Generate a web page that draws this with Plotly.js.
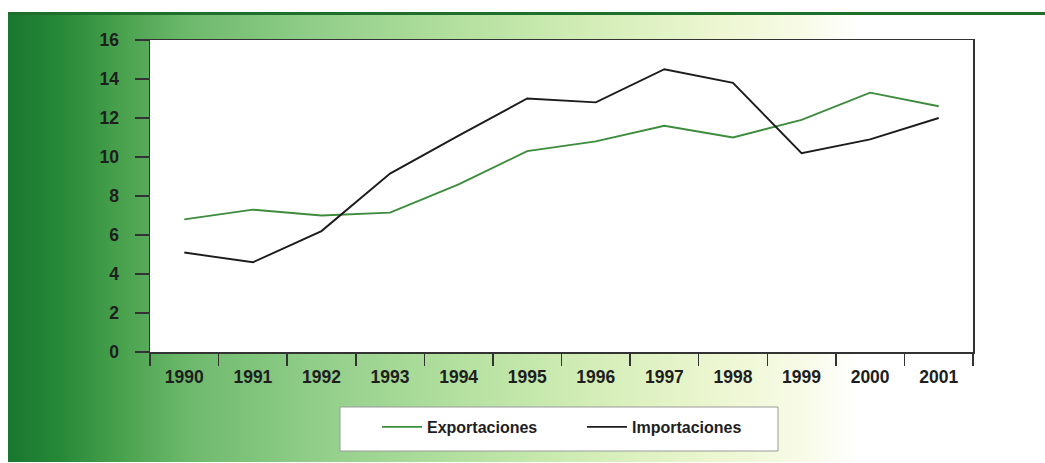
<!DOCTYPE html>
<html>
<head>
<meta charset="utf-8">
<script src="https://cdn.plot.ly/plotly-3.0.1.min.js"></script>
<style>
  html, body { margin:0; padding:0; background:#ffffff; width:1045px; height:463px; overflow:hidden; }
  #bg { position:absolute; left:8px; top:12px; width:1037px; height:450px;
        border-top:3px solid #1f6e2c; box-sizing:border-box;
        background: linear-gradient(to right, #19772f 0px, #258837 50px, #47a04c 110px, #6db96c 180px, #8fcd88 300px, #b3e09f 450px, #d2edb6 580px, #ebf6cf 700px, #f8fbe8 800px, #ffffff 850px, #ffffff 1037px); }
  #chart { position:absolute; left:0; top:0; width:1045px; height:463px; }
</style>
</head>
<body>
<div id="bg"></div>
<div id="chart"></div>
<script>
const years = ['1990','1991','1992','1993','1994','1995','1996','1997','1998','1999','2000','2001'];
const exportaciones = [6.8, 7.3, 7.0, 7.15, 8.6, 10.3, 10.8, 11.6, 11.0, 11.9, 13.3, 12.6];
const importaciones = [5.1, 4.6, 6.2, 9.15, 11.1, 13.0, 12.8, 14.5, 13.8, 10.2, 10.9, 12.0];
const seriesNames = ['Exportaciones', 'Importaciones'];

const FONT = 'Liberation Sans, Arial, sans-serif';
const W = 1045, H = 463, ML = 150, MR = 72, MT = 40, MB = 111;
const pw = W - ML - MR, ph = H - MT - MB;
const px2x = p => (p - ML) / pw;
const py2y = p => (H - MB - p) / ph;

const traces = [
  { x: years, y: exportaciones, name: seriesNames[0], type: 'scatter', mode: 'lines',
    line: { color: '#3d8c3d', width: 1.9 } },
  { x: years, y: importaciones, name: seriesNames[1], type: 'scatter', mode: 'lines',
    line: { color: '#1c1c1c', width: 1.9 } }
];

const layout = {
  width: W, height: H,
  margin: { l: ML, r: MR, t: MT, b: MB },
  paper_bgcolor: 'rgba(0,0,0,0)',
  plot_bgcolor: '#ffffff',
  font: { family: FONT, size: 17.5, color: '#1e1e1e', weight: 'bold' },
  showlegend: true,
  xaxis: {
    type: 'category', range: [-0.5, 11.5], tickson: 'boundaries',
    ticks: 'outside', ticklen: 12, tickwidth: 1.5, tickcolor: '#333',
    ticklabelstandoff: 8,
    showline: true, linecolor: '#333', linewidth: 1.5, mirror: true,
    showgrid: false, zeroline: false,
    tickfont: { family: FONT, size: 17.5, color: '#1e1e1e', weight: 'bold' }
  },
  yaxis: {
    range: [0, 16], dtick: 2, tick0: 0,
    ticks: 'outside', ticklen: 14, tickwidth: 1.5, tickcolor: '#333',
    ticklabelstandoff: 12,
    showline: true, linecolor: '#333', linewidth: 1.5, mirror: true,
    showgrid: false, zeroline: false,
    tickfont: { family: FONT, size: 17.5, color: '#1e1e1e', weight: 'bold' }
  },
  shapes: [
    { type: 'rect', xref: 'paper', yref: 'paper',
      x0: px2x(340), x1: px2x(778), y0: py2y(451), y1: py2y(407),
      fillcolor: '#ffffff', line: { color: '#9a9a9a', width: 1 }, layer: 'above' }
  ],
  legend: {
    orientation: 'h', x: px2x(377), xanchor: 'left', y: py2y(410), yanchor: 'top',
    bgcolor: 'rgba(0,0,0,0)', borderwidth: 0,
    font: { family: FONT, size: 16, color: '#1e1e1e', weight: 'bold' },
    itemwidth: 40, entrywidth: 150
  }
};

Plotly.newPlot('chart', traces, layout, { displayModeBar: false, staticPlot: true });
</script>
</body>
</html>
